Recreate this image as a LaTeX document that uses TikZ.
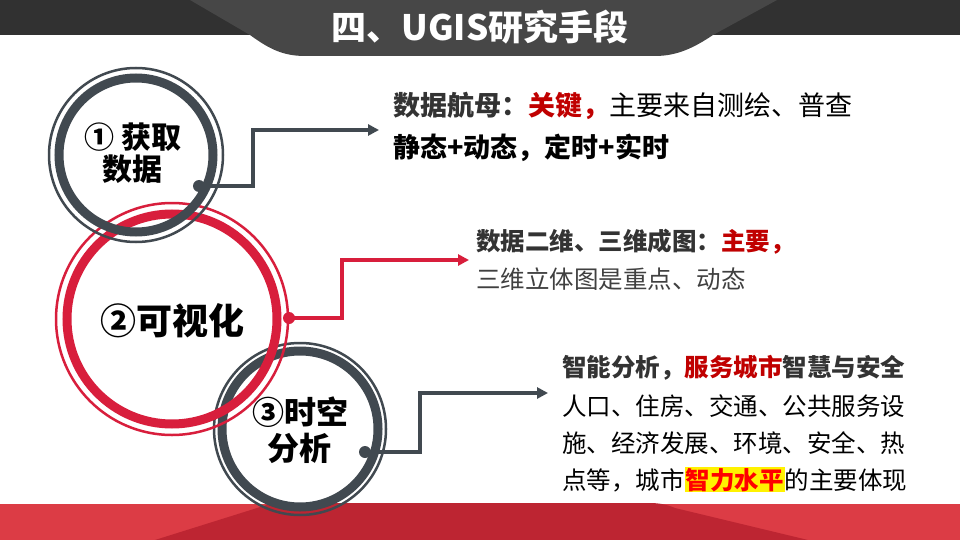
\documentclass[tikz,border=0pt]{standalone}
\usepackage{fontspec}
\setmainfont{Noto Sans CJK SC}
\usetikzlibrary{arrows.meta}
\definecolor{ringgray}{HTML}{414950}
\definecolor{ringred}{HTML}{D81E3C}
\definecolor{bandgray}{HTML}{313131}
\definecolor{tabgray}{HTML}{474747}
\definecolor{footlight}{HTML}{DC3C45}
\definecolor{footdark}{HTML}{BD2532}
\definecolor{keyred}{HTML}{C00000}
\definecolor{darktext}{HTML}{333333}
\definecolor{midtext}{HTML}{404040}
\tikzset{
  thinring/.style={circle, draw, line width=2.5pt, inner sep=0pt},
  thickring/.style={line width=9pt},
  dotnode/.style={circle, inner sep=0pt, minimum size=12pt},
  conn/.style={line width=3.5pt, -{Triangle[length=11pt,width=11pt]}},
  righttext/.style={anchor=base west, inner sep=0pt, font=\fontsize{24.5}{24.5}\selectfont},
  bigright/.style={anchor=base west, inner sep=0pt, font=\fontsize{27}{27}\selectfont},
  circtext/.style={anchor=base, inner sep=0pt, text=black},
}
\begin{document}
\begin{tikzpicture}[x=1pt,y=-1pt]
\useasboundingbox (0,0) rectangle (960,540);
\fill[white] (0,0) rectangle (960,540);
% header
\fill[bandgray] (0,0) rectangle (960,35);
\fill[tabgray] (190,0) -- (250,35) .. controls (268,48) and (282,56) .. (305,56)
  -- (655,56) .. controls (678,56) and (695,47) .. (713,35) -- (777,0) -- cycle;
\node[anchor=base, inner sep=0pt, text=white, font=\fontsize{35}{35}\selectfont\bfseries] (title) at (480,41) {四、UGIS研究手段};
% footer
\fill[footlight] (0,504) rectangle (960,540);
\fill[footdark] (155,540) -- (273,503) -- (650,503) .. controls (660,503) and (668,505) .. (675,508) -- (808,540) -- cycle;
% circle 3
\node[thinring, draw=ringgray, minimum size=172pt] (c3) at (300,429) {};
\draw[thickring, ringgray] (c3.center) circle[radius=78pt];
\node[dotnode, fill=ringgray] (d3) at (365,452) {};
% circle 2
\node[thinring, draw=ringred, minimum size=232pt] (c2) at (172,319) {};
\draw[thickring, ringred] (c2.center) circle[radius=105pt];
\node[dotnode, fill=ringred] (d2) at (289,318) {};
% circle 1
\node[thinring, draw=ringgray, minimum size=174pt] (c1) at (136,155) {};
\draw[thickring, ringgray] (c1.center) circle[radius=77pt];
\node[dotnode, fill=ringgray] (d1) at (199,186) {};
% connectors
\coordinate (a1) at (379,130);
\coordinate (a2) at (469,260);
\coordinate (a3) at (548,393);
\draw[conn, ringgray] (d1.center) -- (253,186) |- (a1);
\draw[conn, ringred] (d2.center) -- (342,318) |- (a2);
\draw[conn, ringgray] (d3.center) -- (420,452) |- (a3);
% circle texts
\node[circtext, font=\fontsize{30}{30}\selectfont\bfseries] (c1t1) at (133,149) {① 获取};
\node[circtext, font=\fontsize{30}{30}\selectfont\bfseries] (c1t2) at (132,181) {数据};
\node[circtext, font=\fontsize{36}{36}\selectfont\bfseries] (c2t1) at (172,334) {②可视化};
\node[circtext, font=\fontsize{32}{32}\selectfont\bfseries] (c3t1) at (300,424) {③时空};
\node[circtext, font=\fontsize{32}{32}\selectfont\bfseries] (c3t2) at (299,460) {分析};
% right texts
\node[bigright] (r1a) at (393,116) {{\bfseries\color{darktext}数据航母：}{\bfseries\color{keyred}关键，}{\color{black}主要来自测绘、普查}};
\node[bigright] (r1b) at (393,158) {\bfseries 静态+动态，定时+实时};
\node[righttext] (r2a) at (476,250) {{\bfseries\color{darktext}数据二维、三维成图：}{\bfseries\color{keyred}主要，}};
\node[righttext, text=midtext] (r2b) at (476,288) {三维立体图是重点、动态};
\node[righttext] (r3a) at (562,376) {{\bfseries\color{darktext}智能分析，}{\bfseries\color{keyred}服务城市}{\bfseries\color{darktext}智慧与安全}};
\node[righttext] (r3b) at (562,415) {人口、住房、交通、公共服务设};
\node[righttext] (r3c) at (562,452) {施、经济发展、环境、安全、热};
\node[righttext] (r3d) at (562,489) {点等，城市{\setlength\fboxsep{1pt}\colorbox{yellow}{\bfseries\color{red}智力水平}}的主要体现};
\end{tikzpicture}
\end{document}
